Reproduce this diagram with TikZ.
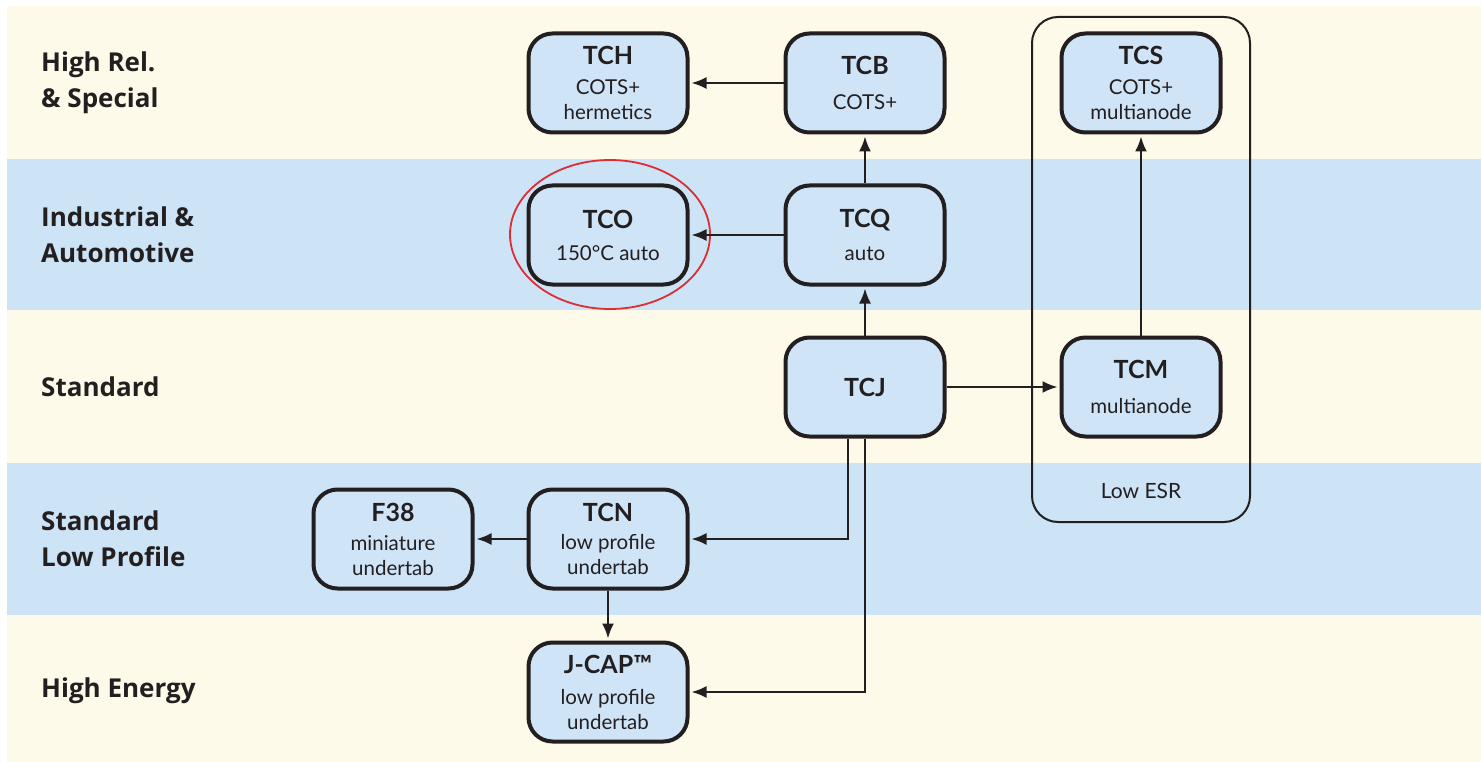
\documentclass[tikz,border=0pt]{standalone}
\usepackage{fontspec}
\setmainfont{Lato}
\newfontfamily\labelfont{Open Sans}
\usetikzlibrary{arrows.meta}
\definecolor{cream}{RGB}{253,250,233}
\definecolor{bandblue}{RGB}{204,228,246}
\definecolor{boxblue}{RGB}{207,228,246}
\definecolor{ink}{RGB}{35,31,32}
\definecolor{ringred}{RGB}{222,45,55}
\newcommand{\prodtitle}[1]{{\bfseries\fontsize{25}{24}\selectfont #1}}
\begin{document}
\begin{tikzpicture}[x=1pt,y=-1pt,
  prod/.style={draw=ink, line width=4pt, rounded corners=24pt, fill=boxblue,
    minimum width=159pt, minimum height=99pt, inner sep=0pt, align=center,
    text=ink, font=\fontsize{20.5}{25}\selectfont},
  bandlabel/.style={text=ink, font=\labelfont\bfseries\fontsize{26}{36}\selectfont,
    align=left, anchor=west, inner sep=0pt},
  conn/.style={draw=ink, line width=2pt, shorten >=2pt,
    -{Latex[length=15pt, width=12pt]}},
  group/.style={draw=ink, line width=2pt, rounded corners=26pt},
]
\useasboundingbox (0,0) rectangle (1481,762);
\fill[white] (0,0) rectangle (1481,762);
\fill[cream] (7,6) rectangle (1481,762);
\fill[bandblue] (7,159) rectangle (1481,310);
\fill[bandblue] (7,463) rectangle (1481,615);

% band labels
\node[bandlabel] (l1) at (41,83) {High Rel.\\\& Special};
\node[bandlabel] (l2) at (41,235) {Industrial \&\\Automotive};
\node[bandlabel] (l3) at (41,387) {Standard};
\node[bandlabel] (l4) at (41,539) {Standard\\Low Profile};
\node[bandlabel] (l5) at (41,691) {High Energy};

% Low ESR group
\draw[group] (1032,17) rectangle (1250,522);
\node[text=ink, font=\fontsize{21}{24}\selectfont] (lowesr) at (1141,491) {Low ESR};

% products
\node[prod] (TCH) at (608,83) {\prodtitle{TCH}\\[5pt]COTS+\\hermetics};
\node[prod] (TCB) at (865,83) {\prodtitle{TCB}\\[10pt]COTS+};
\node[prod] (TCS) at (1141,83) {\prodtitle{TCS}\\[5pt]COTS+\\multianode};
\node[prod] (TCO) at (608,235) {\prodtitle{TCO}\\[7pt]150°C auto};
\node[prod] (TCQ) at (865,235) {\prodtitle{TCQ}\\[8pt]auto};
\node[prod] (TCJ) at (865,387) {\prodtitle{TCJ}};
\node[prod] (TCM) at (1141,387) {\prodtitle{TCM}\\[10pt]multianode};
\node[prod] (F38) at (393,539) {\prodtitle{F38}\\[4pt]miniature\\undertab};
\node[prod] (TCN) at (608,539) {\prodtitle{TCN}\\[3pt]low profile\\undertab};
\node[prod] (JCAP) at (608,692) {\prodtitle{J-CAP™}\\[6pt]low profile\\undertab};

% red highlight ring
\draw[ringred, line width=1.8pt] (610,234.5) ellipse [x radius=100pt, y radius=74.5pt];

% connectors
\draw[conn] (TCB.west) -- (TCH.east);
\draw[conn] (TCQ.north) -- (TCB.south);
\draw[conn] (TCQ.west) -- (TCO.east);
\draw[conn] (TCJ.north) -- (TCQ.south);
\draw[conn] (TCJ.east) -- (TCM.west);
\draw[conn] (TCM.north) -- (TCS.south);
\draw[conn] ([xshift=-17pt]TCJ.south) |- (TCN.east);
\draw[conn] (TCJ.south) |- (JCAP.east);
\draw[conn] (TCN.west) -- (F38.east);
\draw[conn] (TCN.south) -- (JCAP.north);
\end{tikzpicture}
\end{document}
